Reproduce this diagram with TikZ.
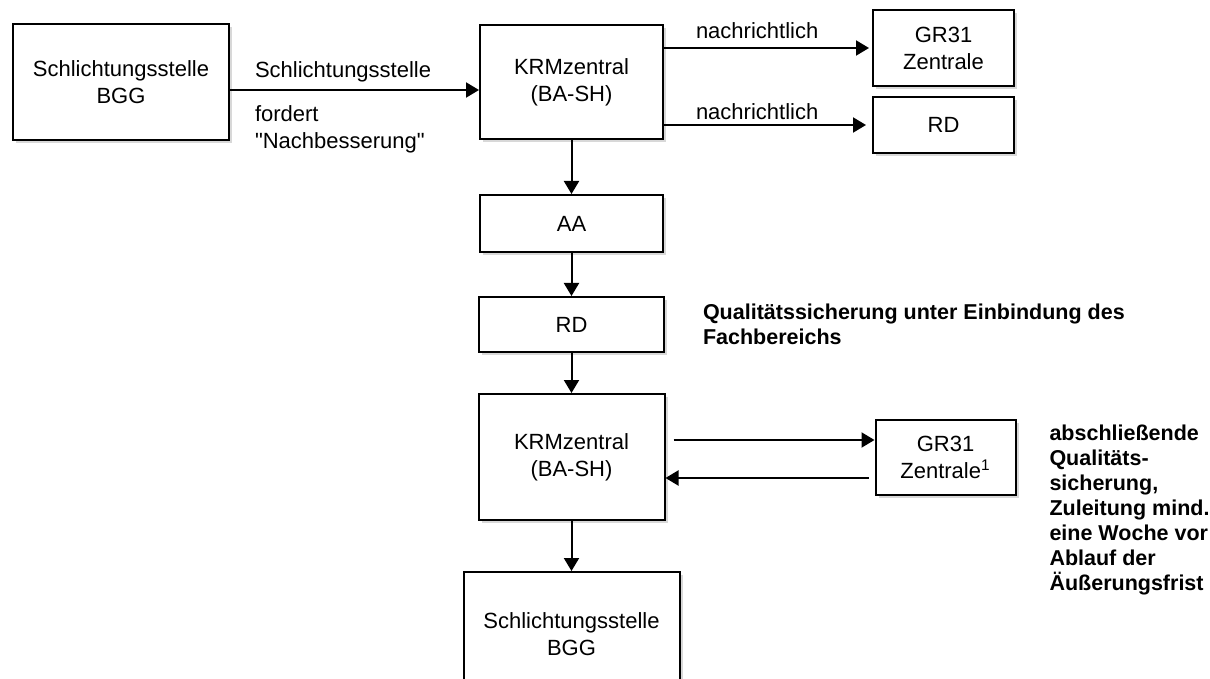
\documentclass[tikz,border=0pt]{standalone}
\usepackage{fontspec}
\setmainfont{Liberation Sans}
\usepackage{tikz}
\usetikzlibrary{arrows.meta}
\usetikzlibrary{positioning}
\usetikzlibrary{shadows}
\tikzset{>={Triangle[length=6.5pt,width=7.5pt]}}
\tikzset{
  box/.style={draw, line width=1pt, fill=white, inner sep=0pt, align=center,
    font=\fontsize{11pt}{13.5pt}\selectfont,
    drop shadow={shadow xshift=1.5pt, shadow yshift=-1.5pt, fill=black!30}},
  lbl/.style={inner sep=0pt, align=left, font=\fontsize{11pt}{13.5pt}\selectfont},
  note/.style={inner sep=0pt, align=left, font=\fontsize{10.75pt}{12.5pt}\selectfont\bfseries}
}

\begin{document}
\begin{tikzpicture}[node distance = 1cm, line width=1pt]
      \useasboundingbox (0,0) rectangle (605pt,-339.5pt);

      \node[box, minimum width=108pt, minimum height=58pt] (s) at (60.5pt,-41pt) {Schlichtungsstelle\\BGG};
      \node[box, minimum width=91.5pt, minimum height=57pt, right = 124.5pt of s] (k) {KRMzentral\\(BA-SH)};
      \node[box, minimum width=70.5pt, minimum height=38pt, anchor=north west] (g) at ([xshift=104pt,yshift=7.5pt]k.north east) {GR31\\Zentrale};
      \node[box, minimum width=70.5pt, minimum height=28pt, below = 4.5pt of g] (r) {RD};
      \node[box, minimum width=91.5pt, minimum height=28.5pt, below = 27pt of k] (a) {AA};
      \node[box, minimum width=92.5pt, minimum height=27.5pt, below = 21.5pt of a] (d) {RD};
      \node[box, minimum width=93pt, minimum height=63pt, below = 20pt of d] (k') {KRMzentral\\(BA-SH)};
      \node[box, minimum width=70pt, minimum height=37.5pt, right = 104.5pt of k'] (g') {GR31\\Zentrale\textsuperscript{1}};
      \node[box, minimum width=108pt, minimum height=62pt, below = 25pt of k'] (s') {Schlichtungsstelle\\BGG};

      \node[note, right = 18.5pt of d] (qs) {Qualitätssicherung unter Einbindung des\\Fachbereichs};
      \node[note, below right = 2.5pt and 16pt of g'.north east] (qs') {abschließende\\Qualitäts-\\sicherung,\\Zuleitung mind.\\eine Woche vor\\Ablauf der\\Äußerungsfrist};


      \draw[->] ([yshift=-4pt]s.east) -- ([yshift=-4pt]s.east -| k.west)
        node[lbl, pos=0, above right = 3.7pt and 12pt] {Schlichtungsstelle}
        node[lbl, pos=0, below right = 7.5pt and 12pt] {fordert\\\textquotedbl Nachbesserung\textquotedbl};

      \draw[->, shorten >=1.5pt] (k.east |- g.west) -- (g.west)
        node[lbl, pos=0, above right = 4pt and 15.5pt] {nachrichtlich};
      \draw[->, shorten >=3pt] (k.east |- r.west) -- (r.west)
        node[lbl, pos=0, above right = 2pt and 15.5pt] {nachrichtlich};

      \draw[->] (k) -- (a);
      \draw[->] (a) -- (d);
      \draw[->] (d) -- (k');
      \draw[->] (k') -- (s');

      \draw[->, shorten <=4pt] ([yshift=8.5pt]k'.east) -- ([yshift=8.5pt]g'.west);
      \draw[->, shorten <=3pt] ([yshift=-10.5pt]g'.west) -- ([yshift=-10.5pt]k'.east);


    \end{tikzpicture}
\end{document}
